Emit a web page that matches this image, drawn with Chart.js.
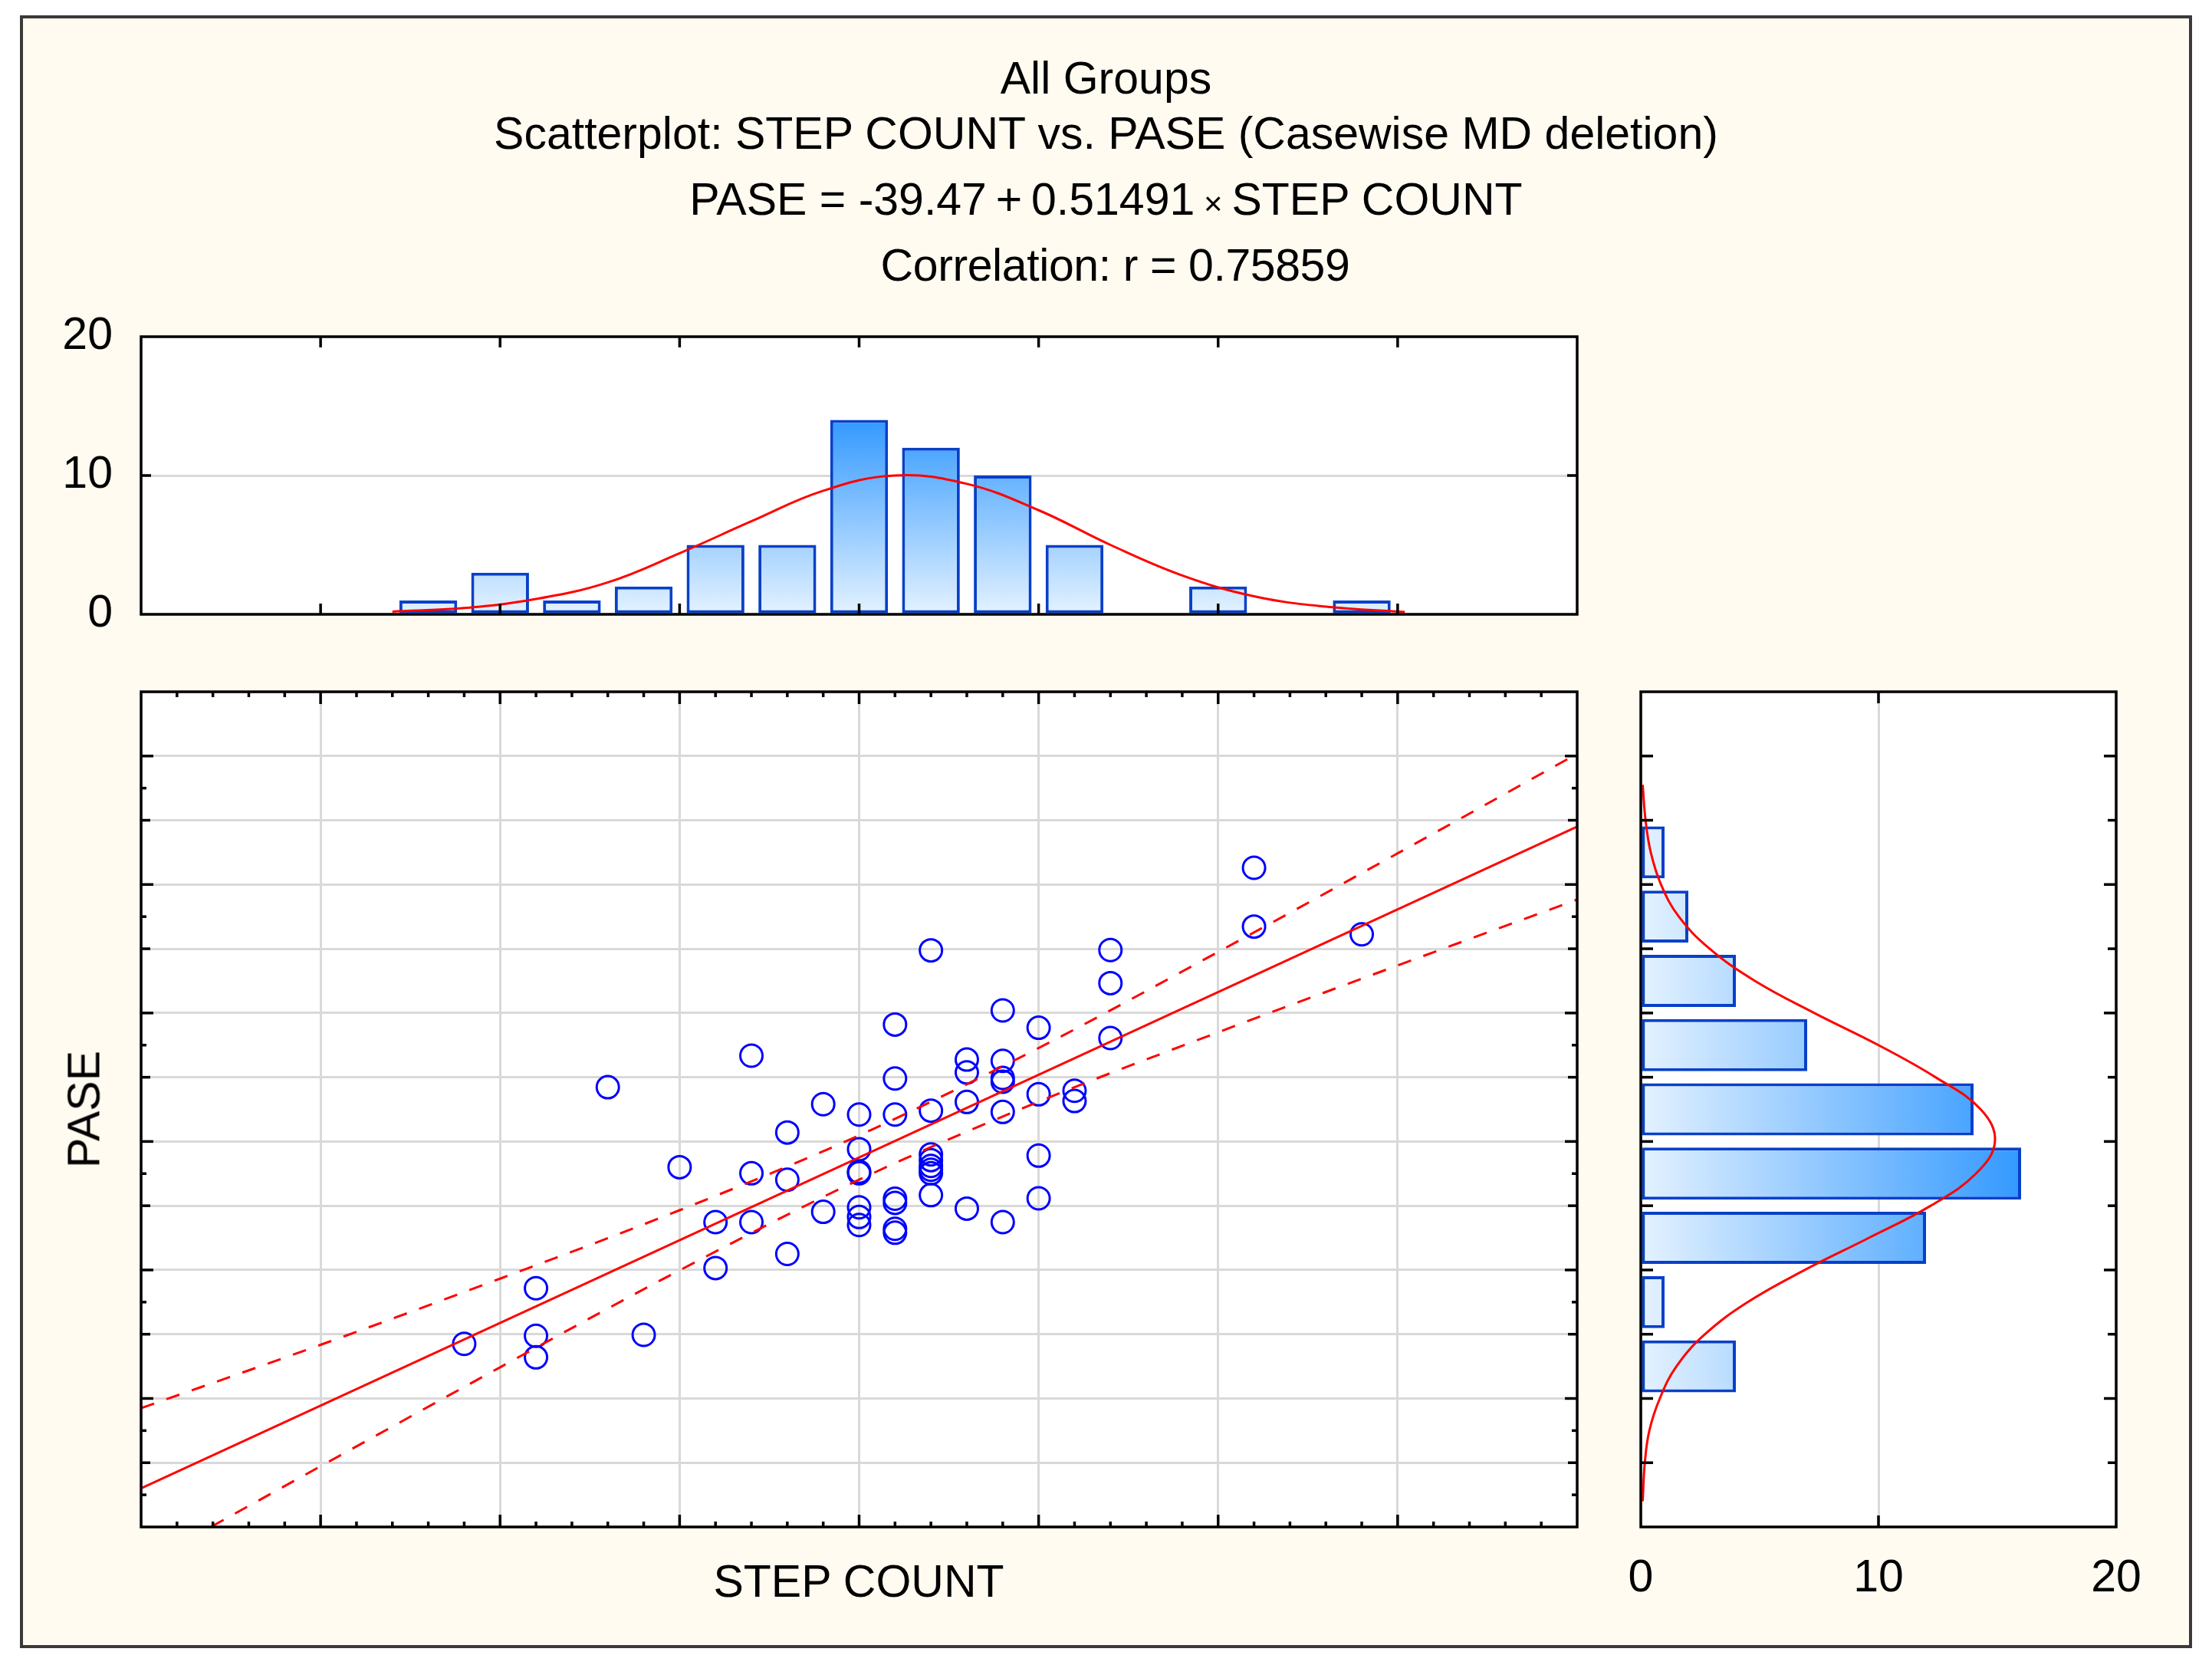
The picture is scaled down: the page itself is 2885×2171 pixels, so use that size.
<!DOCTYPE html>
<html>
<head>
<meta charset="utf-8">
<script src="https://cdn.jsdelivr.net/npm/chart.js@4.4.1/dist/chart.umd.min.js"></script>
<style>
html,body{margin:0;padding:0;background:#ffffff;}
body{width:2885px;height:2171px;position:relative;overflow:hidden;font-family:"Liberation Sans",Arial,Helvetica,sans-serif;}
#panel{position:absolute;left:26px;top:20px;width:2833px;height:2129px;box-sizing:border-box;border:4px solid #3a3a3a;background:#FFFBF0;}
canvas{position:absolute;left:0;top:0;}
.t{position:absolute;left:0;width:2885px;text-align:center;font-size:59px;line-height:59px;color:#000;white-space:nowrap;}
.ax{position:absolute;text-align:center;font-size:59px;line-height:59px;color:#000;white-space:nowrap;}
.sm{font-size:42px;}
</style>
</head>
<body>
<div id="panel"></div>
<canvas id="topHist" width="2885" height="2171"></canvas>
<canvas id="mainPlot" width="2885" height="2171"></canvas>
<canvas id="sideHist" width="2885" height="2171"></canvas>
<div class="t" style="top:73px">All Groups</div>
<div class="t" style="top:145px">Scatterplot: STEP COUNT vs. PASE (Casewise MD deletion)</div>
<div class="t" style="top:231px">PASE = -39.47&#8201;+&#8201;0.51491&#8201;<span class="sm">×</span>&#8201;STEP COUNT</div>
<div class="t" style="top:317px;left:12px;letter-spacing:-0.4px">Correlation: r = 0.75859</div>
<div class="ax" style="left:620px;width:1000px;top:2033px">STEP COUNT</div>
<div class="ax" style="left:-90px;width:400px;top:1417px;transform:rotate(-90deg);transform-origin:50% 50%">PASE</div>
<script>
// ---------------- data ----------------
const STEP_COUNT = [230,250,270,270,320,370,370,310,340,350,370,310,330,330,340,340,340,290,300,310,
                    320,330,340,350,360,360,280,300,300,320,320,320,320,350,280,290,300,300,300,310,
                    310,310,310,330,340,350,280,260,270,260,210,190,210,210,240,410,410,440,320,320,300];
const PASE       = [136.9,112.0,146.7,110.1,179.5,179.6,169.3,156.4,160.8,155.4,152.2,139.6,145.5,141.5,145.1,139.8,138.6,131.6,128.4,128.4,
                    129.6,132.3,129.2,134.7,135.8,132.6,122.8,117.6,110.1,116.0,112.4,110.1,103.3,115.6,108.1,98.1,99.5,96.5,94.0,102.2,
                    100.9,92.8,91.6,99.1,94.9,102.3,85.0,94.9,94.9,80.6,74.3,57.0,59.5,52.8,59.8,205.2,186.9,184.5,114.2,111.2,110.6];

const STEP_BINS = [180,200,220,240,260,280,300,320,340,360,400,440];
const STEP_FREQ = [1,3,1,2,5,5,14,12,10,5,2,1];
const PASE_BINS = [50,70,90,110,130,150,170,190,210];
const PASE_FREQ = [4,1,12,16,14,7,4,2,1];

const STEP_FIT_X = [170,190,210,230,250,270,290,310,330,350,370,390,410,430,452];
const STEP_FIT_Y = [0.2,0.45,1.1,2.3,4.4,6.7,8.9,10.0,9.4,7.5,5.0,2.8,1.3,0.55,0.17];

const PASE_FIT_Y = [8,20,30,40,50,60,70,80,90,100,110,120,130,140,150,160,170,180,190,200,210,220,231];
const PASE_FIT_N = [0.08,0.17,0.36,0.8,1.5,2.7,4.5,6.9,9.6,12.2,14.1,14.9,14.3,12.4,10.0,7.3,4.8,2.9,1.6,0.85,0.42,0.2,0.08];

const REG_X = [100,500];
const REG_Y = [12.0,218.0];
const BAND_X  = [100,150,200,250,300,350,400,450,500];
const BAND_UP = [37.0,56.7,77.3,98.6,121.9,149.1,179.0,209.7,240.7];
const BAND_LO = [-12.0,18.9,49.7,79.9,108.1,132.4,154.0,174.8,195.3];

const FREQ_TICKS = [0,10,20];         // labelled ticks of both histograms
const STEP_RANGE = [100,500];
const PASE_RANGE = [0,260];

// ---------------- helpers ----------------
const W = 2885, H = 2171;
const FONT = '"Liberation Sans", Arial, Helvetica, sans-serif';
Chart.defaults.font.family = FONT;
Chart.defaults.color = '#000';
const GRID = '#D9D9D9';
const RED = '#FF0000';
const BAR_EDGE = '#0840C8';
const zeroW = s => { s.width = 0; };
const zeroH = s => { s.height = 0; };
const fixW = w => (s => { s.width = w; });
const fixH = h => (s => { s.height = h; });
const pts = (xs, ys) => xs.map((x, i) => ({x: x, y: ys[i]}));
const range = (a, b, st) => { const r = []; for (let v = a; v <= b + 1e-9; v += st) r.push(v); return r; };

function areaPad(l, t, r, b) { return {left: l, top: t, right: W - r, bottom: H - b}; }

const framePlugin = {
  id: 'frame',
  beforeDraw(chart) {
    const a = chart.chartArea, ctx = chart.ctx;
    ctx.save();
    ctx.fillStyle = '#FFFFFF';
    ctx.fillRect(a.left, a.top, a.right - a.left, a.bottom - a.top);
    ctx.restore();
  },
  afterDraw(chart, args, opts) {
    const a = chart.chartArea, ctx = chart.ctx;
    ctx.save();
    ctx.strokeStyle = '#000';
    ctx.lineWidth = 3.5;
    (opts.marks || []).forEach(m => {
      const s = chart.scales[m.axis];
      m.values.forEach(v => {
        const p = s.getPixelForValue(v);
        ctx.beginPath();
        if (m.side === 'left') { ctx.moveTo(a.left, p); ctx.lineTo(a.left + m.len, p); }
        else if (m.side === 'right') { ctx.moveTo(a.right, p); ctx.lineTo(a.right - m.len, p); }
        else if (m.side === 'top') { ctx.moveTo(p, a.top); ctx.lineTo(p, a.top + m.len); }
        else { ctx.moveTo(p, a.bottom); ctx.lineTo(p, a.bottom - m.len); }
        ctx.stroke();
      });
    });
    ctx.strokeRect(a.left, a.top, a.right - a.left, a.bottom - a.top);
    ctx.restore();
  }
};

const common = (pad) => ({
  responsive: false,
  animation: false,
  devicePixelRatio: 1,
  events: [],
  layout: {padding: pad},
});
const noLegend = {legend: {display: false}, tooltip: {enabled: false}, title: {display: false}};

// tick value sets
const X_MAJOR = range(150, 450, 50);
const X_MINOR = range(110, 490, 10).filter(v => v % 50 !== 0);
const Y_LONG = [40,80,120,160,200,240];
const Y_MID = [20,60,100,140,180,220];
const Y_MINOR = [10,30,70,110,150,190,230];

// ---------------- top histogram ----------------
const TOP_AXIS_W = 150;
const stepMax = Math.max(...STEP_FREQ);
const topPad = areaPad(184, 439, 2057, 801); topPad.left -= TOP_AXIS_W;
new Chart(document.getElementById('topHist'), {
  type: 'bar',
  data: {datasets: [
    {type: 'line', data: pts(STEP_FIT_X, STEP_FIT_Y), borderColor: RED, borderWidth: 3, pointRadius: 0, tension: 0.4, fill: false, order: 0},
    {type: 'bar', data: pts(STEP_BINS, STEP_FREQ), borderColor: BAR_EDGE, borderWidth: 4, borderSkipped: false,
     barPercentage: 0.805, categoryPercentage: 1, order: 1,
     backgroundColor(c) {
       const ch = c.chart, y = ch.scales.y;
       if (!ch.chartArea || !y) return '#9fcfff';
       const g = ch.ctx.createLinearGradient(0, y.getPixelForValue(0), 0, y.getPixelForValue(stepMax));
       g.addColorStop(0, '#E4F2FF'); g.addColorStop(1, '#3399FF');
       return g;
     }}
  ]},
  options: Object.assign(common(topPad), {
    plugins: Object.assign({}, noLegend, {frame: {marks: [
      {axis: 'x', side: 'top', values: X_MAJOR, len: 14},
      {axis: 'x', side: 'bottom', values: X_MAJOR, len: 14},
      {axis: 'y', side: 'left', values: [10], len: 13},
      {axis: 'y', side: 'right', values: [10], len: 13}
    ]}}),
    scales: {
      x: {type: 'linear', offset: false, min: STEP_RANGE[0], max: STEP_RANGE[1], ticks: {display: false, stepSize: 50},
          grid: {display: false, offset: false}, border: {display: false}, afterFit: zeroH},
      y: {type: 'linear', min: 0, max: 20,
          ticks: {stepSize: 10, padding: 37, font: {size: 59}, color: '#000',
                  callback: v => FREQ_TICKS.includes(v) ? String(v) : ''},
          grid: {color: GRID, lineWidth: 3, drawTicks: false}, border: {display: false}, afterFit: fixW(TOP_AXIS_W)}
    }
  }),
  plugins: [framePlugin]
});

// ---------------- main scatter ----------------
new Chart(document.getElementById('mainPlot'), {
  type: 'scatter',
  data: {datasets: [
    {data: pts(REG_X, REG_Y), showLine: true, borderColor: RED, borderWidth: 3, pointRadius: 0, order: 0},
    {data: pts(BAND_X, BAND_UP), showLine: true, borderColor: RED, borderWidth: 3, borderDash: [18, 17], pointRadius: 0, cubicInterpolationMode: 'monotone', order: 1},
    {data: pts(BAND_X, BAND_LO), showLine: true, borderColor: RED, borderWidth: 3, borderDash: [18, 17], pointRadius: 0, cubicInterpolationMode: 'monotone', order: 1},
    {data: pts(STEP_COUNT, PASE), showLine: false, pointStyle: 'circle', pointRadius: 14.5, pointBorderWidth: 3,
     pointBorderColor: '#0000FF', pointBackgroundColor: 'rgba(0,0,0,0)', order: 2}
  ]},
  options: Object.assign(common(areaPad(184, 902, 2057, 1991)), {
    plugins: Object.assign({}, noLegend, {frame: {marks: [
      {axis: 'x', side: 'bottom', values: X_MAJOR, len: 16},
      {axis: 'x', side: 'bottom', values: X_MINOR, len: 7},
      {axis: 'x', side: 'top', values: X_MAJOR, len: 16},
      {axis: 'x', side: 'top', values: X_MINOR, len: 7},
      {axis: 'y', side: 'left', values: Y_LONG, len: 16},
      {axis: 'y', side: 'left', values: Y_MID, len: 12},
      {axis: 'y', side: 'left', values: Y_MINOR, len: 7},
      {axis: 'y', side: 'right', values: Y_LONG, len: 16},
      {axis: 'y', side: 'right', values: Y_MID, len: 12},
      {axis: 'y', side: 'right', values: Y_MINOR, len: 7}
    ]}}),
    scales: {
      x: {type: 'linear', min: STEP_RANGE[0], max: STEP_RANGE[1], ticks: {display: false, stepSize: 50},
          grid: {color: GRID, lineWidth: 3, drawTicks: false}, border: {display: false}, afterFit: zeroH},
      y: {type: 'linear', min: PASE_RANGE[0], max: PASE_RANGE[1], ticks: {display: false, stepSize: 20},
          grid: {color: GRID, lineWidth: 3, drawTicks: false}, border: {display: false}, afterFit: zeroW}
    }
  }),
  plugins: [framePlugin]
});

// ---------------- side histogram ----------------
const SIDE_AXIS_H = 130;
const paseMax = Math.max(...PASE_FREQ);
const sidePad = areaPad(2140, 902, 2760, 1991); sidePad.bottom -= SIDE_AXIS_H;
new Chart(document.getElementById('sideHist'), {
  type: 'bar',
  data: {datasets: [
    {type: 'line', data: pts(PASE_FIT_N, PASE_FIT_Y), borderColor: RED, borderWidth: 3, pointRadius: 0, tension: 0.4, fill: false, order: 0},
    {type: 'bar', data: pts(PASE_FREQ, PASE_BINS), borderColor: BAR_EDGE, borderWidth: 4, borderSkipped: false,
     barPercentage: 0.81, categoryPercentage: 1, order: 1,
     backgroundColor(c) {
       const ch = c.chart, x = ch.scales.x;
       if (!ch.chartArea || !x) return '#9fcfff';
       const g = ch.ctx.createLinearGradient(x.getPixelForValue(0), 0, x.getPixelForValue(paseMax), 0);
       g.addColorStop(0, '#E4F2FF'); g.addColorStop(1, '#3399FF');
       return g;
     }}
  ]},
  options: Object.assign(common(sidePad), {
    indexAxis: 'y',
    plugins: Object.assign({}, noLegend, {frame: {marks: [
      {axis: 'y', side: 'left', values: Y_LONG.concat(Y_MID), len: 16},
      {axis: 'y', side: 'right', values: Y_LONG, len: 16},
      {axis: 'y', side: 'right', values: Y_MID, len: 11},
      {axis: 'x', side: 'bottom', values: [10], len: 15},
      {axis: 'x', side: 'top', values: [10], len: 15}
    ]}}),
    scales: {
      x: {type: 'linear', position: 'bottom', min: 0, max: 20,
          ticks: {stepSize: 10, padding: 32, font: {size: 59}, color: '#000',
                  callback: v => FREQ_TICKS.includes(v) ? String(v) : ''},
          grid: {color: GRID, lineWidth: 3, drawTicks: false}, border: {display: false}, afterFit: fixH(SIDE_AXIS_H)},
      y: {type: 'linear', offset: false, min: PASE_RANGE[0], max: PASE_RANGE[1], ticks: {display: false, stepSize: 20},
          grid: {display: false, offset: false}, border: {display: false}, afterFit: zeroW}
    }
  }),
  plugins: [framePlugin]
});
</script>
</body>
</html>
